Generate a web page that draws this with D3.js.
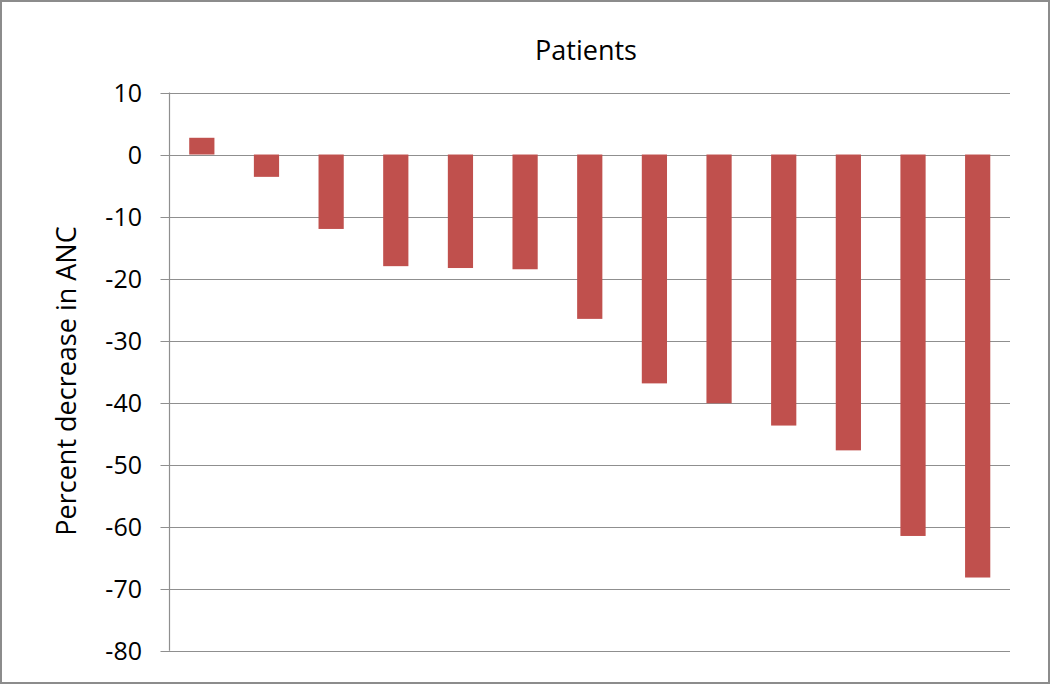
<!DOCTYPE html>
<html>
<head>
<meta charset="utf-8">
<script src="https://cdn.jsdelivr.net/npm/d3@7"></script>
<style>
  body { margin: 0; background: #fff; }
  text { font-family: "Open Sans", "Noto Sans", sans-serif; fill: #000; }
</style>
</head>
<body>
<svg id="chart" width="1050" height="684"></svg>
<script>
// values
const patients = ['P1', 'P2', 'P3', 'P4', 'P5', 'P6', 'P7', 'P8', 'P9', 'P10', 'P11', 'P12', 'P13'];
const ancChange = [2.7, -3.6, -12.0, -18.0, -18.3, -18.5, -26.5, -36.9, -40.1, -43.7, -47.7, -61.5, -68.2];
const yTicks = [10, 0, -10, -20, -30, -40, -50, -60, -70, -80];

const svg = d3.select('#chart');
const width = 1050;
const height = 684;
const margin = { top: 92.5, right: 40, bottom: 33.3, left: 169.5 };

// chart frame
svg.append('rect')
  .attr('x', 1)
  .attr('y', 1)
  .attr('width', width - 2)
  .attr('height', height - 2)
  .attr('fill', '#fff')
  .attr('stroke', '#8c8c8c')
  .attr('stroke-width', 2);

const x = d3.scaleBand()
  .domain(patients)
  .range([margin.left, width - margin.right])
  .paddingInner(0.61)
  .paddingOuter(0.305);

const y = d3.scaleLinear()
  .domain([-80, 10])
  .range([height - margin.bottom, margin.top]);

// gridlines
svg.append('g')
  .selectAll('line')
  .data(yTicks)
  .join('line')
  .attr('x1', margin.left - 9)
  .attr('x2', width - margin.right)
  .attr('y1', (d) => Math.round(y(d)) + 0.5)
  .attr('y2', (d) => Math.round(y(d)) + 0.5)
  .attr('stroke', '#8f8f8f')
  .attr('stroke-width', 1.2);

// y axis line
svg.append('line')
  .attr('x1', margin.left)
  .attr('x2', margin.left)
  .attr('y1', y(10))
  .attr('y2', y(-80))
  .attr('stroke', '#8f8f8f')
  .attr('stroke-width', 1.2);

// bars
svg.append('g')
  .selectAll('rect')
  .data(ancChange)
  .join('rect')
  .attr('x', (d, i) => x(patients[i]))
  .attr('width', x.bandwidth())
  .attr('y', (d) => y(Math.max(0, d)))
  .attr('height', (d) => Math.abs(y(d) - y(0)))
  .attr('fill', '#c0504d');

// tick labels
svg.append('g')
  .selectAll('text')
  .data(yTicks)
  .join('text')
  .attr('x', 142)
  .attr('y', (d) => y(d))
  .attr('dy', '0.36em')
  .attr('text-anchor', 'end')
  .attr('font-size', 25)
  .text((d) => d);

// title
svg.append('text')
  .attr('x', 586)
  .attr('y', 60)
  .attr('text-anchor', 'middle')
  .attr('font-size', 27)
  .text('Patients');

// y axis title
svg.append('text')
  .attr('transform', `translate(76, 381) rotate(-90)`)
  .attr('text-anchor', 'middle')
  .attr('font-size', 27)
  .text('Percent decrease in ANC');
</script>
</body>
</html>
